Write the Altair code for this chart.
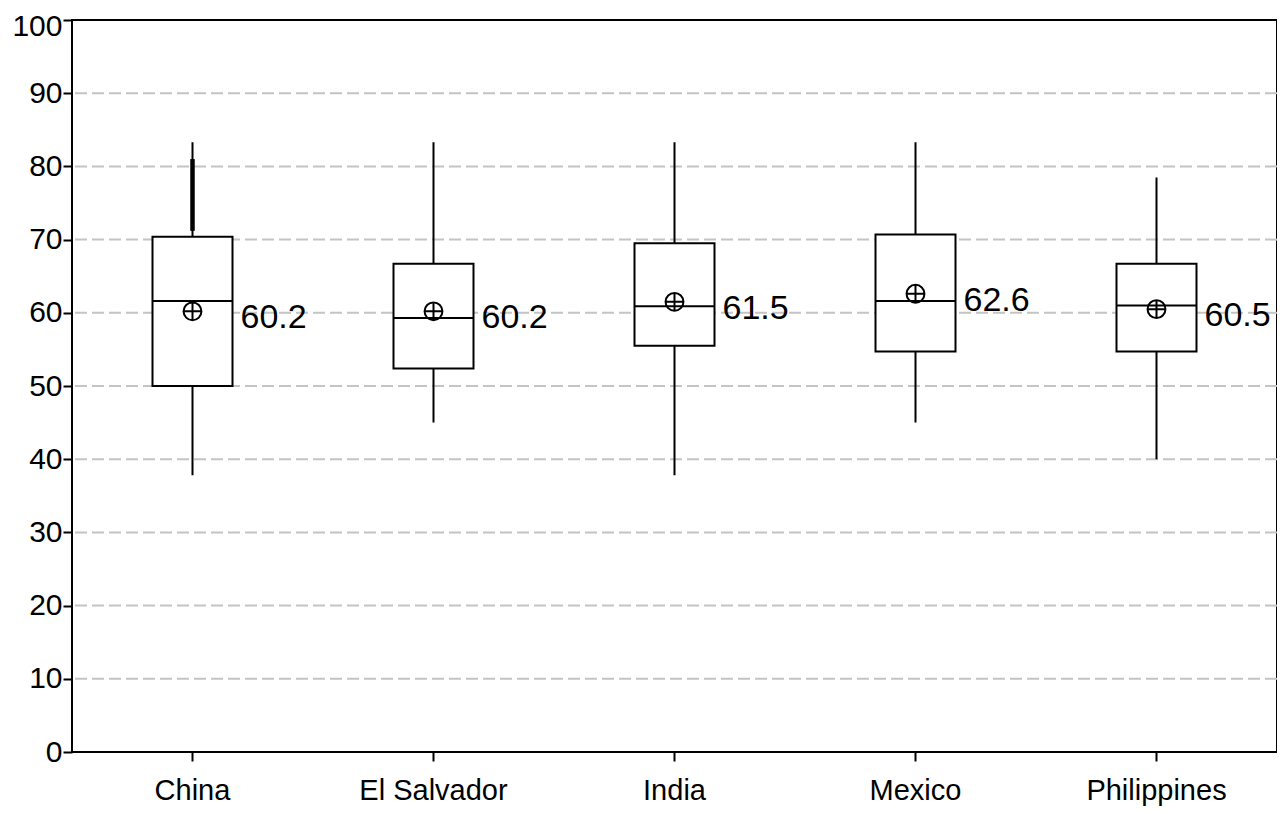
import altair as alt
import pandas as pd

countries = ["China", "El Salvador", "India", "Mexico", "Philippines"]
whisker_lo = [37.8, 45.0, 37.8, 45.0, 40.0]
q1 = [50.0, 52.4, 55.5, 54.7, 54.7]
median = [61.6, 59.3, 60.9, 61.6, 61.0]
q3 = [70.4, 66.7, 69.5, 70.7, 66.7]
whisker_hi = [83.3, 83.3, 83.3, 83.3, 78.5]
means = [60.2, 60.2, 61.5, 62.6, 60.5]
mean_labels = ["60.2", "60.2", "61.5", "62.6", "60.5"]

# dense outlier cluster for China (drawn as a heavy segment)
dense_country = ["China"]
dense_lo = [71.2]
dense_hi = [81.0]

y_ticks = [0, 10, 20, 30, 40, 50, 60, 70, 80, 90, 100]
grid_values = [10, 20, 30, 40, 50, 60, 70, 80, 90]

FONT = "Liberation Sans"

df = pd.DataFrame({
    "country": countries,
    "lo": whisker_lo,
    "q1": q1,
    "median": median,
    "q3": q3,
    "hi": whisker_hi,
    "mean": means,
    "label": mean_labels,
})
dense_df = pd.DataFrame({"country": dense_country, "lo": dense_lo, "hi": dense_hi})
grid_df = pd.DataFrame({"v": grid_values})

x_enc = alt.X(
    "country:N",
    sort=countries,
    scale=alt.Scale(paddingInner=0, paddingOuter=0),
    axis=alt.Axis(
        title=None,
        labelAngle=0,
        labelFont=FONT,
        labelFontSize=29,
        labelColor="black",
        labelPadding=15,
        tickSize=9,
        tickWidth=2,
        tickColor="black",
        domain=False,
        grid=False,
    ),
)
y_scale = alt.Scale(domain=[0, 100], nice=False, zero=True)
y_axis = alt.Axis(
    title=None,
    values=y_ticks,
    labelFont=FONT,
    labelFontSize=30,
    labelColor="black",
    labelPadding=1,
    labelOffset={"condition": {"test": "datum.value === 100", "value": 6}, "value": 0},
    tickSize=9,
    tickWidth=2,
    tickColor="black",
    domain=False,
    grid=False,
)

base = alt.Chart(df)

grid = alt.Chart(grid_df).mark_rule(
    color="#c4c4c4", strokeDash=[12, 5], strokeWidth=2
).encode(y=alt.Y("v:Q", scale=y_scale, axis=y_axis))

whisk = base.mark_rule(color="black", strokeWidth=2).encode(
    x=x_enc, y=alt.Y("lo:Q", scale=y_scale, axis=y_axis), y2="hi:Q"
)

dense = alt.Chart(dense_df).mark_rule(color="black", strokeWidth=4.5).encode(
    x=alt.X("country:N", sort=countries), y=alt.Y("lo:Q", scale=y_scale), y2="hi:Q"
)

box = base.mark_bar(size=80, fill="white", stroke="black", strokeWidth=2, opacity=1).encode(
    x=x_enc, y=alt.Y("q1:Q", scale=y_scale), y2="q3:Q"
)

med = base.mark_tick(size=80, thickness=2, color="black", orient="horizontal", opacity=1).encode(
    x=x_enc, y=alt.Y("median:Q", scale=y_scale)
)

mean_circle = base.mark_point(
    shape="circle", size=320, filled=False, stroke="black", strokeWidth=2, opacity=1
).encode(x=x_enc, y=alt.Y("mean:Q", scale=y_scale))

mean_cross = base.mark_point(
    shape="M-1,0H1M0,-1V1", size=320, filled=False, stroke="black", strokeWidth=2, opacity=1
).encode(x=x_enc, y=alt.Y("mean:Q", scale=y_scale))

labels = base.mark_text(
    align="left", baseline="middle", dx=48, dy=7, fontSize=34, font=FONT, color="black"
).encode(x=x_enc, y=alt.Y("mean:Q", scale=y_scale), text="label:N")

chart = alt.layer(grid, whisk, dense, box, med, mean_circle, mean_cross, labels).properties(
    width=1205,
    height=732,
    autosize=alt.AutoSizeParams(type="none"),
    padding={"left": 64, "top": 12, "right": 0, "bottom": 54},
).configure(
    font=FONT, background="white"
).configure_view(
    stroke="black", strokeWidth=2
)

chart.save("out.html", embed_options={"renderer": "svg", "actions": False})
